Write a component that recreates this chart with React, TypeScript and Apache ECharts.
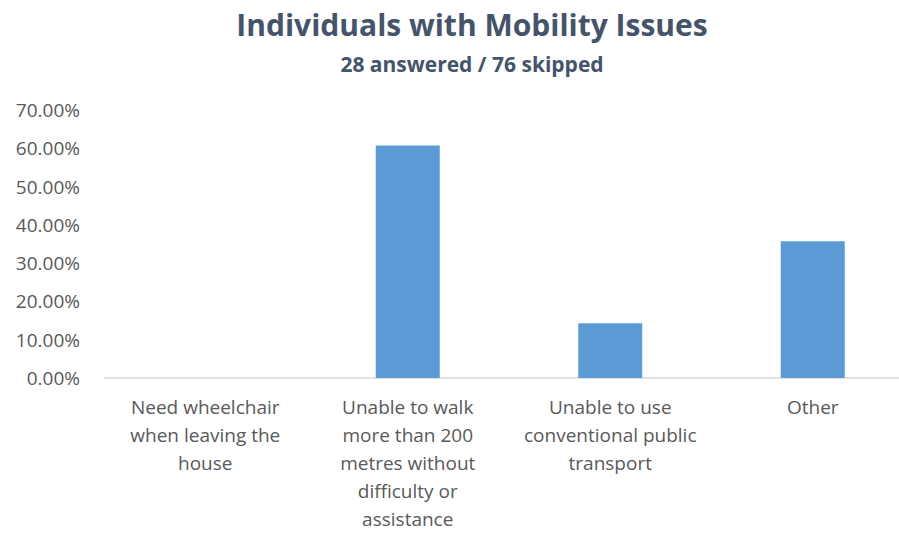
import React, { useEffect, useRef } from "react";
import * as echarts from "echarts";

const categories = [
  "Need wheelchair\nwhen leaving the\nhouse",
  "Unable to walk\nmore than 200\nmetres without\ndifficulty or\nassistance",
  "Unable to use\nconventional public\ntransport",
  "Other",
];
const values = [0, 60.71, 14.29, 35.71];
const titleText = "Individuals with Mobility Issues";
const subtitleText = "28 answered / 76 skipped";

export default function App() {
  const ref = useRef<HTMLDivElement>(null);
  useEffect(() => {
    if (!ref.current) return;
    const chart = echarts.init(ref.current, null, { renderer: "svg" });
    const font = "'Open Sans', 'Liberation Sans', sans-serif";
    chart.setOption({
      animation: false,
      backgroundColor: "#ffffff",
      title: [
        {
          text: titleText,
          left: 467,
          textAlign: "center",
          top: 4,
          textStyle: { fontFamily: font, fontSize: 30, fontWeight: "bold", color: "#44546A" },
        },
        {
          text: subtitleText,
          left: 467,
          textAlign: "center",
          top: 48,
          textStyle: { fontFamily: font, fontSize: 21, fontWeight: "bold", color: "#44546A" },
        },
      ],
      grid: { left: 104, width: 810, top: 110, bottom: 158, containLabel: false },
      xAxis: {
        type: "category",
        data: categories,
        axisLine: { lineStyle: { color: "#D9D9D9", width: 1.5 } },
        axisTick: { show: false },
        axisLabel: {
          interval: 0,
          fontFamily: font,
          fontSize: 19,
          color: "#595959",
          lineHeight: 28,
          margin: 15,
          align: "center",
        },
      },
      yAxis: {
        type: "value",
        min: 0,
        max: 70,
        interval: 10,
        splitLine: { show: false },
        axisLine: { show: false },
        axisTick: { show: false },
        axisLabel: {
          fontFamily: font,
          fontSize: 19,
          color: "#595959",
          margin: 24,
          formatter: (v: number) => v.toFixed(2) + "%",
        },
      },
      series: [
        {
          type: "bar",
          data: values,
          barWidth: 64,
          itemStyle: { color: "#5B9BD5" },
        },
      ],
    });
    return () => chart.dispose();
  }, []);
  return (
    <div
      style={{
        position: "fixed",
        left: 0,
        top: 0,
        width: 899,
        height: 536,
        overflow: "hidden",
        background: "#ffffff",
      }}
    >
      <div ref={ref} style={{ width: 930, height: 536 }} />
    </div>
  );
}
